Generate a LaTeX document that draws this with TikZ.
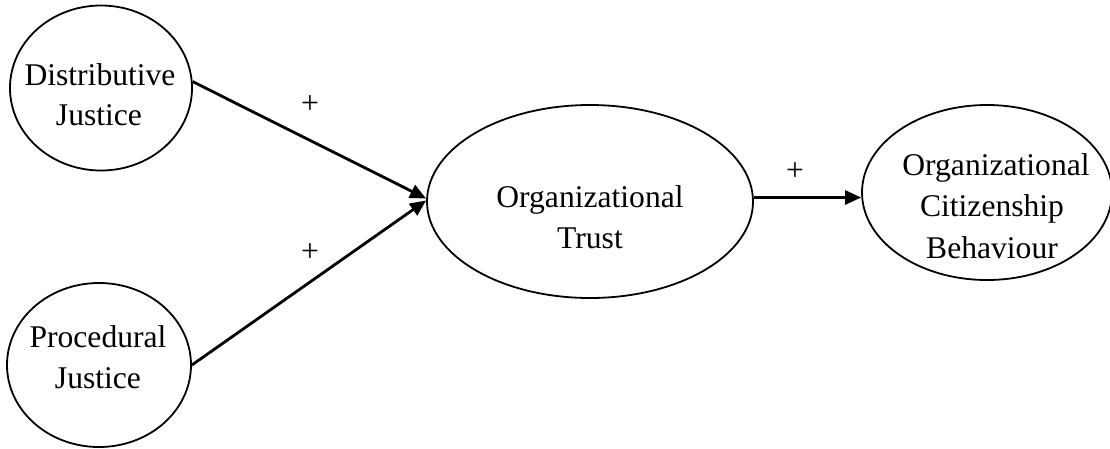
\documentclass[tikz,border=0pt]{standalone}
\usepackage{fontspec}
\setmainfont{Liberation Serif}
\usetikzlibrary{shapes.geometric,arrows.meta}
\begin{document}
\begin{tikzpicture}[x=1pt,y=-1pt,
  every node/.style={font=\fontsize{31.6}{41}\selectfont},
  latent/.style={draw, ellipse, line width=1.8pt, inner sep=0pt},
  txt/.style={anchor=base, inner sep=0pt},
  conn/.style={line width=2.8pt, -{Triangle[length=16pt,width=14pt]}},
  sign/.style={inner sep=0pt}]
\useasboundingbox (0,0) rectangle (1110,448);
\clip (0,0) rectangle (1110,448);
\node[latent, minimum width=182, minimum height=165] (dj) at (101,88) {};
\node[txt] (dj1) at (100,85) {Distributive};
\node[txt] (dj2) at (99,125) {Justice};
\node[latent, minimum width=184, minimum height=164] (pj) at (99,365) {};
\node[txt] (pj1) at (98,347) {Procedural};
\node[txt] (pj2) at (98,388) {Justice};
\node[latent, minimum width=326, minimum height=193] (ot) at (590,201.5) {};
\node[txt] (ot1) at (590,207) {Organizational};
\node[txt] (ot2) at (590,248) {Trust};
\node[latent, minimum width=250, minimum height=175] (ocb) at (987,192.5) {};
\node[txt] (ocb1) at (996,175) {Organizational};
\node[txt] (ocb2) at (992,216) {Citizenship};
\node[txt] (ocb3) at (992,258) {Behaviour};
\draw[conn] (dj.4) -- ([yshift=3pt]ot.west);
\draw[conn] (pj.east) -- ([yshift=1pt]ot.west);
\draw[conn] ([yshift=4pt]ot.east) -- ([yshift=4pt]ot.east -| ocb.west);
\node[sign] (s1) at (310,105) {+};
\node[sign] (s2) at (310,253) {+};
\node[sign] (s3) at (795,172) {+};
\end{tikzpicture}
\end{document}
